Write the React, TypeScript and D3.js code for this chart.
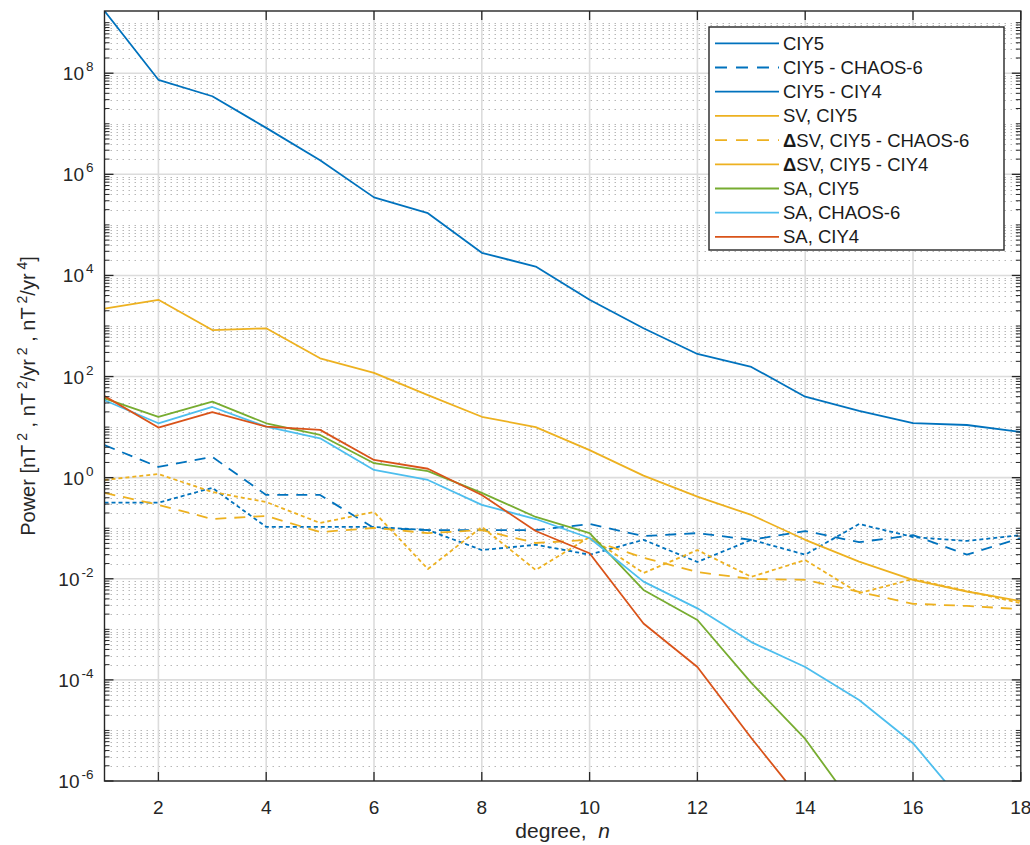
import * as d3 from "d3";
import { useEffect, useRef } from "react";

// spherical harmonic degree n
const degrees = [1, 2, 3, 4, 5, 6, 7, 8, 9, 10, 11, 12, 13, 14, 15, 16, 17, 18];

// main field power, nT^2
const ciy5 = [1.7e9, 7.4e7, 3.5e7, 8.3e6, 1.9e6, 3.5e5, 1.7e5, 2.8e4, 1.5e4, 3.3e3, 900, 280, 155, 40, 21, 12, 11, 8];
const ciy5Chaos6 = [4.4, 1.63, 2.57, 0.455, 0.455, 0.101, 0.092, 0.092, 0.092, 0.121, 0.07, 0.08, 0.059, 0.088, 0.053, 0.073, 0.03, 0.064];
const ciy5Ciy4 = [0.32, 0.32, 0.63, 0.106, 0.106, 0.106, 0.092, 0.037, 0.047, 0.03, 0.059, 0.0215, 0.059, 0.03, 0.121, 0.067, 0.056, 0.073];

// secular variation, nT^2/yr^2
const svCiy5 = [2200, 3300, 830, 900, 230, 118, 43, 16, 10, 3.5, 1.1, 0.42, 0.183, 0.059, 0.0218, 0.0095, 0.0056, 0.0036];
const dSvChaos6 = [0.5, 0.29, 0.152, 0.175, 0.084, 0.101, 0.08, 0.092, 0.051, 0.059, 0.026, 0.0136, 0.0099, 0.0095, 0.0055, 0.0032, 0.0029, 0.0025];
const dSvCiy4 = [0.9, 1.18, 0.52, 0.33, 0.127, 0.21, 0.0156, 0.106, 0.0149, 0.067, 0.013, 0.037, 0.0109, 0.0235, 0.0052, 0.0099, 0.0057, 0.0033];

// secular acceleration, nT^2/yr^4 (runs off the bottom of the axis)
const saCiy5 = [37, 16, 32, 11.9, 7, 1.93, 1.35, 0.5, 0.167, 0.08, 0.006, 0.00153, 8.7e-5, 6.8e-6, 2.3e-7];
const saChaos6 = [34, 11.9, 25, 10.2, 6.0, 1.42, 0.9, 0.29, 0.152, 0.064, 0.0088, 0.0026, 5.6e-4, 1.8e-4, 4.0e-5, 5.6e-6, 3.0e-7];
const saCiy4 = [41, 9.8, 19.7, 10.2, 8.8, 2.24, 1.5, 0.455, 0.088, 0.032, 0.0013, 1.8e-4, 7.1e-6, 3.3e-7];

const xTicks = [2, 4, 6, 8, 10, 12, 14, 16, 18];
const yTickExponents = [-6, -4, -2, 0, 2, 4, 6, 8];

const blue = "#0072BD";
const orange = "#EDB120";
const green = "#77AC30";
const cyan = "#4DBEEE";
const red = "#D95319";

const series = [
  { name: "CIY5", values: ciy5, color: blue, dash: null, legendDash: null },
  { name: "CIY5 - CHAOS-6", values: ciy5Chaos6, color: blue, dash: "11,8", legendDash: "12,9" },
  { name: "CIY5 - CIY4", values: ciy5Ciy4, color: blue, dash: "4,3", legendDash: null },
  { name: "SV, CIY5", values: svCiy5, color: orange, dash: null, legendDash: null },
  { name: "SV, CIY5 - CHAOS-6", values: dSvChaos6, color: orange, dash: "11,8", legendDash: "12,9", delta: true },
  { name: "SV, CIY5 - CIY4", values: dSvCiy4, color: orange, dash: "4,3", legendDash: null, delta: true },
  { name: "SA, CIY5", values: saCiy5, color: green, dash: null, legendDash: null },
  { name: "SA, CHAOS-6", values: saChaos6, color: cyan, dash: null, legendDash: null },
  { name: "SA, CIY4", values: saCiy4, color: red, dash: null, legendDash: null },
];

const App = () => {
  const width = 1030;
  const height = 845;
  const margin = { top: 11, bottom: 64, right: 9.2, left: 104.5 };
  const svgRef = useRef(null);

  useEffect(() => {
    if (!svgRef.current) return;
    const svg = d3.select(svgRef.current);
    svg.selectAll("*").remove();

    const font = "'Liberation Sans', Arial, Helvetica, sans-serif";
    const axisColor = "#262626";
    const x0 = margin.left;
    const x1 = width - margin.right;
    const y0 = height - margin.bottom;
    const y1 = margin.top;

    const x = d3.scaleLinear([1, 18], [x0, x1]);
    const y = d3.scaleLog([1e-6, 1.7e9], [y0, y1]);

    svg.append("rect").attr("width", width).attr("height", height).attr("fill", "white");

    // minor values for log grid and ticks
    const minorVals = [];
    for (let k = -6; k <= 9; k++) {
      for (let m = 1; m <= 9; m++) {
        const v = m * Math.pow(10, k);
        if (m === 1 && k % 2 === 0) continue;
        if (v > 1.7e9) continue;
        minorVals.push(v);
      }
    }

    const grid = svg.append("g");
    grid
      .selectAll("line.minor")
      .data(minorVals)
      .join("line")
      .attr("x1", x0)
      .attr("x2", x1)
      .attr("y1", (d) => Math.round(y(d)) + 0.5)
      .attr("y2", (d) => Math.round(y(d)) + 0.5)
      .attr("stroke", "#b8b8b8")
      .attr("stroke-width", 1)
      .attr("stroke-dasharray", "1.5,4.5");

    grid
      .selectAll("line.majorY")
      .data(yTickExponents.filter((e) => e > -6))
      .join("line")
      .attr("x1", x0)
      .attr("x2", x1)
      .attr("y1", (e) => y(Math.pow(10, e)))
      .attr("y2", (e) => y(Math.pow(10, e)))
      .attr("stroke", "#dcdcdc")
      .attr("stroke-width", 1.6);

    grid
      .append("g")
      .selectAll("line")
      .data(xTicks.filter((t) => t < 18))
      .join("line")
      .attr("x1", (t) => x(t))
      .attr("x2", (t) => x(t))
      .attr("y1", y0)
      .attr("y2", y1)
      .attr("stroke", "#dcdcdc")
      .attr("stroke-width", 1.6);

    // data lines, clipped to the axes
    svg
      .append("clipPath")
      .attr("id", "plot-clip")
      .append("rect")
      .attr("x", x0)
      .attr("y", y1)
      .attr("width", x1 - x0)
      .attr("height", y0 - y1);

    const line = d3
      .line()
      .x((d) => x(d[0]))
      .y((d) => y(d[1]));

    svg
      .append("g")
      .attr("clip-path", "url(#plot-clip)")
      .selectAll("path")
      .data(series)
      .join("path")
      .attr("d", (s) => line(s.values.map((v, i) => [degrees[i], v])))
      .attr("fill", "none")
      .attr("stroke", (s) => s.color)
      .attr("stroke-width", 1.8)
      .attr("stroke-linejoin", "round")
      .attr("stroke-dasharray", (s) => s.dash);

    // axes box and ticks
    const axes = svg.append("g").attr("stroke", axisColor);
    axes
      .append("rect")
      .attr("x", x0)
      .attr("y", y1)
      .attr("width", x1 - x0)
      .attr("height", y0 - y1)
      .attr("fill", "none")
      .attr("stroke-width", 1.4);

    xTicks.forEach((t) => {
      axes.append("line").attr("x1", x(t)).attr("x2", x(t)).attr("y1", y0).attr("y2", y0 - 9).attr("stroke-width", 1.3);
      axes.append("line").attr("x1", x(t)).attr("x2", x(t)).attr("y1", y1).attr("y2", y1 + 9).attr("stroke-width", 1.3);
    });
    minorVals.forEach((v) => {
      const yy = y(v);
      axes.append("line").attr("x1", x0).attr("x2", x0 + 5).attr("y1", yy).attr("y2", yy).attr("stroke-width", 1);
      axes.append("line").attr("x1", x1).attr("x2", x1 - 5).attr("y1", yy).attr("y2", yy).attr("stroke-width", 1);
    });
    yTickExponents.forEach((e) => {
      const yy = y(Math.pow(10, e));
      axes.append("line").attr("x1", x0).attr("x2", x0 + 9).attr("y1", yy).attr("y2", yy).attr("stroke-width", 1.3);
      axes.append("line").attr("x1", x1).attr("x2", x1 - 9).attr("y1", yy).attr("y2", yy).attr("stroke-width", 1.3);
    });

    // tick labels
    svg
      .append("g")
      .selectAll("text")
      .data(xTicks)
      .join("text")
      .attr("x", (t) => x(t))
      .attr("y", y0 + 33)
      .attr("text-anchor", "middle")
      .attr("font-family", font)
      .attr("font-size", 19)
      .attr("fill", axisColor)
      .text((t) => t);

    const yLabels = svg
      .append("g")
      .selectAll("text")
      .data(yTickExponents)
      .join("text")
      .attr("x", x0 - 11)
      .attr("y", (e) => y(Math.pow(10, e)) + 7)
      .attr("text-anchor", "end")
      .attr("font-family", font)
      .attr("font-size", 19)
      .attr("fill", axisColor);
    yLabels.append("tspan").text("10");
    yLabels
      .append("tspan")
      .attr("dy", -9)
      .attr("dx", 2)
      .attr("font-size", 13.5)
      .text((e) => (e < 0 ? "-" + Math.abs(e) : String(e)));

    // axis titles
    const xTitle = svg
      .append("text")
      .attr("x", (x0 + x1) / 2)
      .attr("y", 838)
      .attr("text-anchor", "middle")
      .attr("font-family", font)
      .attr("font-size", 21)
      .attr("fill", axisColor);
    xTitle.append("tspan").text("degree,\u00a0\u00a0");
    xTitle.append("tspan").attr("font-style", "italic").text("n");

    const yTitle = svg
      .append("text")
      .attr("transform", `translate(35, ${(y0 + y1) / 2}) rotate(-90)`)
      .attr("text-anchor", "middle")
      .attr("font-family", font)
      .attr("font-size", 20)
      .attr("fill", axisColor);
    const parts = [
      ["Power [nT", false],
      ["\u00a02", true],
      ["\u00a0, nT", false],
      ["\u00a02", true],
      ["/yr", false],
      ["\u00a02", true],
      ["\u00a0, nT", false],
      ["\u00a02", true],
      ["/yr", false],
      ["\u00a04", true],
      ["]", false],
    ];
    parts.forEach(([txt, sup]) => {
      yTitle
        .append("tspan")
        .attr("font-size", sup ? 14 : 20)
        .attr("baseline-shift", sup ? "8" : null)
        .text(txt);
    });

    // legend
    const lg = svg.append("g");
    lg.append("rect")
      .attr("x", 709)
      .attr("y", 27)
      .attr("width", 295)
      .attr("height", 223)
      .attr("fill", "white")
      .attr("stroke", axisColor)
      .attr("stroke-width", 1.4);
    const rows = lg
      .selectAll("g")
      .data(series)
      .join("g")
      .attr("transform", (s, i) => `translate(0, ${43.3 + i * 24.2})`);
    rows
      .append("line")
      .attr("x1", 715)
      .attr("x2", 779)
      .attr("stroke", (s) => s.color)
      .attr("stroke-width", 1.8)
      .attr("stroke-dasharray", (s) => s.legendDash);
    const labels = rows
      .append("text")
      .attr("x", 783)
      .attr("y", 6.5)
      .attr("font-family", font)
      .attr("font-size", 18.5)
      .attr("fill", "#1a1a1a");
    labels
      .filter((s) => s.delta)
      .append("tspan")
      .attr("font-weight", "bold")
      .text("\u0394");
    labels.append("tspan").text((s) => s.name);
  }, []);

  return (
    <svg
      width={width}
      height={height}
      ref={svgRef}
      style={{ position: "absolute", left: 0, top: 0, background: "white" }}
    ></svg>
  );
};

export default App;
